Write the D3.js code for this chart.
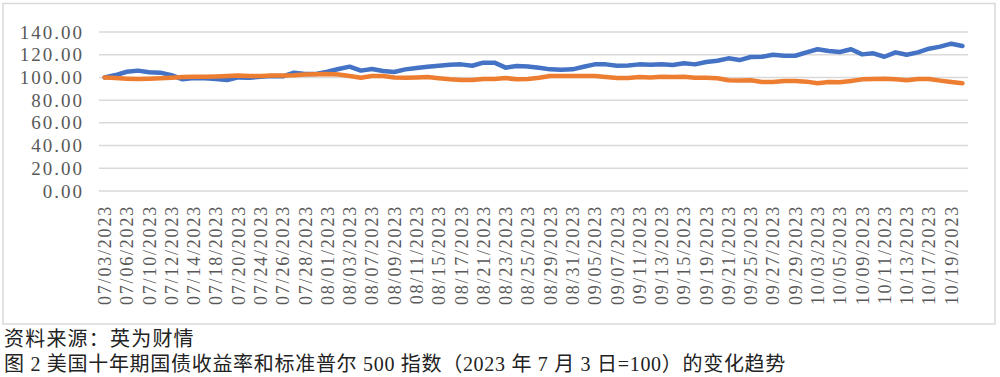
<!DOCTYPE html>
<html>
<head>
<meta charset="utf-8">
<script src="https://cdn.jsdelivr.net/npm/d3@7"></script>
<style>
  body { margin: 0; background: #fff; }
  svg { display: block; }
</style>
</head>
<body>
<svg id="chart" width="1000" height="377"></svg>
<script>
// trading days, 2023-07-03 .. 2023-10-20
const dates = [
  "07/03/2023", "07/05/2023", "07/06/2023", "07/07/2023", "07/10/2023", "07/11/2023", "07/12/2023", "07/13/2023",
  "07/14/2023", "07/17/2023", "07/18/2023", "07/19/2023", "07/20/2023", "07/21/2023", "07/24/2023", "07/25/2023",
  "07/26/2023", "07/27/2023", "07/28/2023", "07/31/2023", "08/01/2023", "08/02/2023", "08/03/2023", "08/04/2023",
  "08/07/2023", "08/08/2023", "08/09/2023", "08/10/2023", "08/11/2023", "08/14/2023", "08/15/2023", "08/16/2023",
  "08/17/2023", "08/18/2023", "08/21/2023", "08/22/2023", "08/23/2023", "08/24/2023", "08/25/2023", "08/28/2023",
  "08/29/2023", "08/30/2023", "08/31/2023", "09/01/2023", "09/05/2023", "09/06/2023", "09/07/2023", "09/08/2023",
  "09/11/2023", "09/12/2023", "09/13/2023", "09/14/2023", "09/15/2023", "09/18/2023", "09/19/2023", "09/20/2023",
  "09/21/2023", "09/22/2023", "09/25/2023", "09/26/2023", "09/27/2023", "09/28/2023", "09/29/2023", "10/02/2023",
  "10/03/2023", "10/04/2023", "10/05/2023", "10/06/2023", "10/09/2023", "10/10/2023", "10/11/2023", "10/12/2023",
  "10/13/2023", "10/16/2023", "10/17/2023", "10/18/2023", "10/19/2023", "10/20/2023"
];

// 美国十年期国债收益率 (2023-07-03 = 100)
const yield10y = [
  100.0, 102.1, 105.0, 106.0, 104.5, 104.2, 102.0, 98.3, 99.5, 99.2, 98.6, 97.7, 100.0, 99.8, 100.6, 101.3,
  101.0, 104.2, 103.0, 103.0, 105.0, 107.4, 109.5, 106.0, 107.4, 105.7, 104.8, 107.1, 108.3, 109.4, 110.3, 111.2,
  111.5, 110.3, 113.0, 113.0, 108.6, 110.0, 109.7, 108.6, 107.1, 106.8, 107.1, 109.4, 111.5, 111.5, 110.3, 110.6,
  111.5, 111.2, 111.5, 110.9, 112.4, 111.5, 113.6, 114.7, 116.8, 115.3, 118.0, 118.2, 120.0, 119.1, 119.1, 122.1,
  124.8, 123.3, 122.4, 124.8, 120.3, 121.2, 118.2, 122.1, 120.0, 122.1, 125.3, 127.1, 129.7, 127.7
];

// 标准普尔500指数 (2023-07-03 = 100)
const spx = [
  100.0, 99.4, 98.9, 98.6, 98.9, 99.2, 99.7, 100.3, 100.6, 100.6, 100.9, 101.3, 101.6, 101.3, 101.3, 101.6,
  101.6, 101.9, 102.5, 102.8, 103.0, 102.5, 101.3, 99.8, 101.3, 101.3, 100.0, 99.8, 100.0, 100.3, 99.2, 98.3,
  97.7, 97.7, 98.6, 98.6, 99.4, 98.3, 98.6, 99.7, 101.3, 101.3, 101.3, 101.3, 101.3, 100.3, 99.4, 99.4,
  100.3, 100.0, 100.6, 100.3, 100.6, 99.7, 99.7, 99.2, 97.5, 97.2, 97.5, 96.0, 96.0, 96.9, 96.9, 96.3,
  94.8, 96.0, 95.7, 96.9, 98.3, 98.6, 98.9, 98.3, 97.5, 98.6, 98.6, 97.2, 96.0, 94.8
];

const yTicks = [0, 20, 40, 60, 80, 100, 120, 140];

const svg = d3.select("#chart");
const width = +svg.attr("width");
const height = +svg.attr("height");

svg.append("rect")
  .attr("width", width).attr("height", height)
  .attr("fill", "#fff");

// chart frame
svg.append("rect")
  .attr("x", 3).attr("y", 3.5)
  .attr("width", 992).attr("height", 320.5)
  .attr("fill", "none")
  .attr("stroke", "#d9d9d9")
  .attr("stroke-width", 1.5);

const x = d3.scalePoint()
  .domain(dates)
  .range([99, 968])
  .padding(0.5);

const y = d3.scaleLinear()
  .domain([0, 140])
  .range([191, 32]);

// gridlines
svg.append("g")
  .selectAll("line")
  .data(yTicks)
  .join("line")
  .attr("x1", 99).attr("x2", 968)
  .attr("y1", d => y(d)).attr("y2", d => y(d))
  .attr("stroke", "#d9d9d9")
  .attr("stroke-width", 1.5);

// y axis
const yAxis = svg.append("g")
  .attr("transform", "translate(84,0)")
  .call(d3.axisLeft(y).tickValues(yTicks).tickSize(0).tickPadding(0).tickFormat(d => d.toFixed(2)));
yAxis.select(".domain").remove();
yAxis.selectAll("text")
  .attr("fill", "#595959")
  .style("font-family", "'Liberation Serif', serif")
  .style("font-size", "19px")
  .style("letter-spacing", "2px");

// x axis labels, every second day
const xAxis = svg.append("g")
  .attr("transform", "translate(0,205)")
  .call(d3.axisBottom(x).tickValues(dates.filter((d, i) => i % 2 === 0)).tickSize(0).tickPadding(0));
xAxis.select(".domain").remove();
xAxis.selectAll("text")
  .attr("fill", "#595959")
  .attr("transform", "rotate(-90)")
  .attr("text-anchor", "end")
  .attr("x", 0)
  .attr("y", 0)
  .attr("dy", "0.33em")
  .style("font-family", "'Liberation Serif', serif")
  .style("font-size", "18px")
  .style("letter-spacing", "1.8px");

// lines
const line = values => d3.line()
  .x((d, i) => x(dates[i]))
  .y(d => y(d))(values);

[[yield10y, "#4472c4"], [spx, "#ed7d31"]].forEach(([vals, color]) => {
  svg.append("path")
    .attr("d", line(vals))
    .attr("fill", "none")
    .attr("stroke", color)
    .attr("stroke-width", 4.5)
    .attr("stroke-linejoin", "round")
    .attr("stroke-linecap", "round");
});

// source and caption
const capFont = "'Liberation Serif', 'Noto Sans CJK SC', serif";
svg.append("text")
  .attr("x", 4).attr("y", 346)
  .attr("fill", "#222")
  .style("font-family", capFont)
  .style("font-size", "20px")
  .style("letter-spacing", "1.2px")
  .text("资料来源：英为财情");

svg.append("text")
  .attr("x", 4).attr("y", 371)
  .attr("fill", "#222")
  .style("font-family", capFont)
  .style("font-size", "20px")
  .style("letter-spacing", "0.7px")
  .text("图 2 美国十年期国债收益率和标准普尔 500 指数（2023 年 7 月 3 日=100）的变化趋势");
</script>
</body>
</html>
